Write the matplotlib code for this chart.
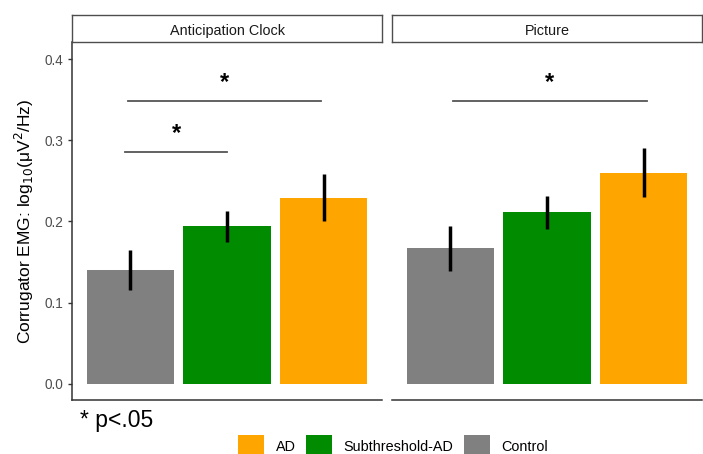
import matplotlib
matplotlib.use("Agg")
import matplotlib.pyplot as plt
from matplotlib.patches import Patch

plt.rcParams['font.family'] = ['Liberation Sans', 'DejaVu Sans']

panels = ["Anticipation Clock", "Picture"]
groups = ["Control", "Subthreshold-AD", "AD"]
colors = {"Control": "#808080", "Subthreshold-AD": "#008B00", "AD": "#FFA500"}

means = {
    "Anticipation Clock": [0.140, 0.194, 0.229],
    "Picture": [0.167, 0.211, 0.260],
}
err_low = {
    "Anticipation Clock": [0.116, 0.175, 0.201],
    "Picture": [0.139, 0.191, 0.230],
}
err_high = {
    "Anticipation Clock": [0.165, 0.213, 0.258],
    "Picture": [0.194, 0.231, 0.291],
}

# significance brackets: (x start, x end, height)
sig_lines = {
    "Anticipation Clock": [(0.95, 2.0, 0.285), (0.98, 2.97, 0.348)],
    "Picture": [(1.03, 3.03, 0.348)],
}

yticks = [0.0, 0.1, 0.2, 0.3, 0.4]

W, H = 703, 454
fig = plt.figure(figsize=(W / 100, H / 100), dpi=100)

panel_px = [(72, 382), (392, 702)]
top_px, bottom_px, strip_top_px = 42, 400, 15

for i, (name, (x0, x1)) in enumerate(zip(panels, panel_px)):
    ax = fig.add_axes([x0 / W, 1 - bottom_px / H, (x1 - x0) / W, (bottom_px - top_px) / H])
    xs = [1, 2, 3]
    ax.bar(xs, means[name], width=0.9, color=[colors[g] for g in groups], zorder=2)
    for x, lo, hi in zip(xs, err_low[name], err_high[name]):
        ax.plot([x, x], [lo, hi], color="black", lw=2.5, solid_capstyle="butt", zorder=3)
    for xa, xb, yv in sig_lines[name]:
        ax.plot([xa, xb], [yv, yv], color="#555555", lw=1.3, zorder=3)
        ax.text((xa + xb) / 2, yv + 0.009, "*", ha="center", va="bottom",
                fontsize=17, fontweight="bold", color="black")
    ax.set_xlim(0.4, 3.6)
    ax.set_ylim(-0.02, 0.421)
    ax.set_xticks([])
    ax.spines["top"].set_visible(False)
    ax.spines["right"].set_visible(False)
    ax.spines["bottom"].set_color("#333333")
    ax.spines["bottom"].set_linewidth(1.1)
    if i == 0:
        ax.set_yticks(yticks)
        ax.set_yticklabels([f"{v:.1f}" for v in yticks], color="#4D4D4D", fontsize=9.8)
        ax.tick_params(axis="y", length=3, color="#333333", width=1, pad=3)
        ax.spines["left"].set_color("#333333")
        ax.spines["left"].set_linewidth(1.1)
        ax.set_ylabel(r"Corrugator EMG: log$_{10}$($\mathregular{\mu}$V$^2$/Hz)",
                      fontsize=12.5, color="black", labelpad=6)
    else:
        ax.set_yticks([])
        ax.spines["left"].set_visible(False)

    # facet strip
    sax = fig.add_axes([x0 / W, 1 - top_px / H, (x1 - x0) / W, (top_px - strip_top_px) / H])
    sax.set_xticks([])
    sax.set_yticks([])
    for s in sax.spines.values():
        s.set_color("#4D4D4D")
        s.set_linewidth(1.0)
    sax.text(0.5, 0.47, name, ha="center", va="center_baseline", fontsize=10.4, color="#1A1A1A",
             transform=sax.transAxes)

fig.text(80 / W, 1 - 421 / H, "* p<.05", fontsize=16.5, ha="left", va="center", color="black")

legend_order = ["AD", "Subthreshold-AD", "Control"]
handles = [Patch(facecolor=colors[g], edgecolor="none", label=g) for g in legend_order]
fig.legend(handles=handles, loc="center", bbox_to_anchor=(393 / W, 1 - 446 / H), ncol=3,
           frameon=False, fontsize=10.4, handlelength=1.8, handleheight=1.9,
           handletextpad=0.8, columnspacing=0.7)

fig.savefig("out.png", dpi=100)
